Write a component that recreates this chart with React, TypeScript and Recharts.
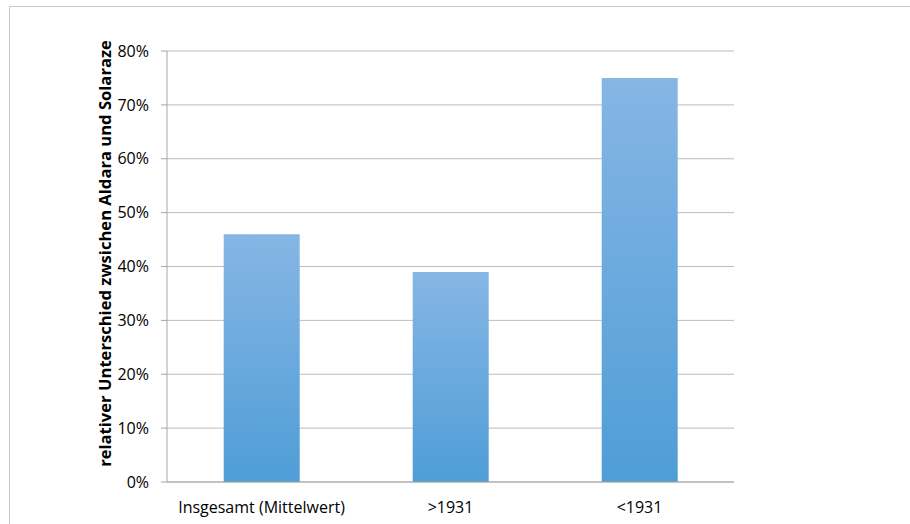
import { BarChart, Bar, XAxis, YAxis, CartesianGrid } from "recharts";

const categories = ["Insgesamt (Mittelwert)", ">1931", "<1931"];
const differences = [46, 39, 75];
const yTicks = [0, 10, 20, 30, 40, 50, 60, 70, 80];
const categoryEdges = [0, 1, 2, 3];

const data = categories.map((name, i) => ({ name, value: differences[i] }));

const FONT = '"Open Sans", "Liberation Sans", sans-serif';

const AxisTitle = (props: any) => {
  const vb = props.viewBox || {};
  const cx = 104;
  const cy = vb.y + vb.height / 2 - 13;
  return (
    <text
      x={cx}
      y={cy}
      transform={`rotate(-90 ${cx} ${cy})`}
      textAnchor="middle"
      dominantBaseline="central"
      fontFamily={FONT}
      fontWeight={700}
      fontSize={16.6}
      fill="#000"
    >
      relativer Unterschied zwsichen Aldara und Solaraze
    </text>
  );
};

export default function App() {
  return (
    <div style={{ position: "absolute", left: 0, top: 0, width: 910, height: 524, overflow: "hidden", background: "#fff" }}>
      <div style={{ position: "absolute", left: 9, top: 6, width: 1000, height: 700, border: "1px solid #c9c9c9" }} />
      <div style={{ position: "absolute", left: 0, top: 0 }}>
        <BarChart
          width={910}
          height={524}
          data={data}
          margin={{ top: 51, right: 176, bottom: 12, left: 107 }}
          barCategoryGap="30%"
        >
          <defs>
            <linearGradient id="barFill" x1="0" y1="0" x2="0" y2="1">
              <stop offset="0%" stopColor="#86b6e4" />
              <stop offset="100%" stopColor="#4f9dd7" />
            </linearGradient>
          </defs>
          <CartesianGrid vertical={false} stroke="#bdbdbd" strokeWidth={1} />
          {/* tick marks at the category boundaries */}
          <XAxis
            xAxisId="edges"
            type="number"
            domain={[0, 3]}
            ticks={categoryEdges}
            allowDataOverflow
            height={0}
            tick={false}
            axisLine={false}
            tickLine={{ stroke: "#a6a6a6" }}
            tickSize={6}
          />
          <XAxis
            dataKey="name"
            height={30}
            tickLine={false}
            axisLine={{ stroke: "#a6a6a6" }}
            tick={{ fill: "#000", fontSize: 16, fontFamily: FONT }}
            tickMargin={14}
            interval={0}
          />
          <YAxis
            width={60}
            domain={[0, 80]}
            ticks={yTicks}
            tickFormatter={(v: number) => `${v}%`}
            tick={{ fill: "#000", fontSize: 16, fontFamily: FONT }}
            tickLine={{ stroke: "#a6a6a6" }}
            axisLine={{ stroke: "#a6a6a6" }}
            tickSize={6}
            tickMargin={12}
            label={{ content: AxisTitle }}
          />
          <Bar dataKey="value" fill="url(#barFill)" isAnimationActive={false} />
        </BarChart>
      </div>
    </div>
  );
}
